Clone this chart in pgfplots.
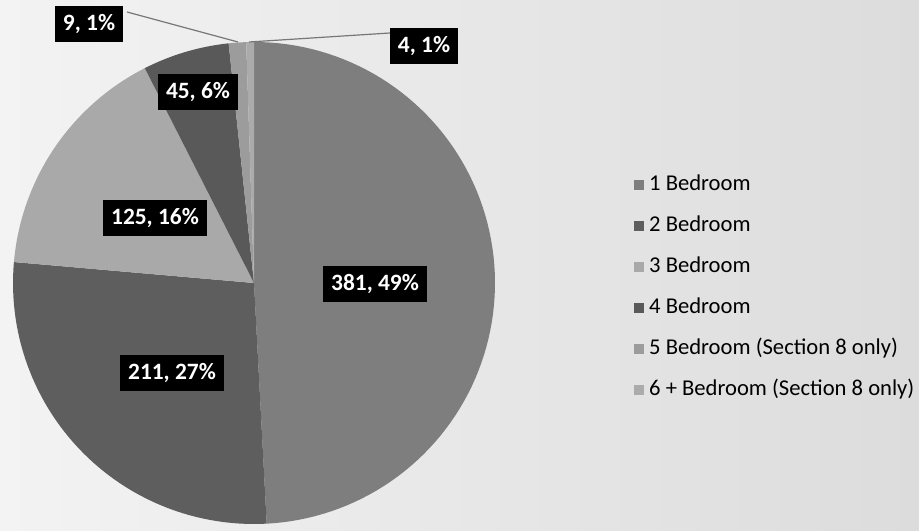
\documentclass[border=0pt]{standalone}
\usepackage{fontspec}
\setmainfont{Carlito}
\usepackage{pgfplots}
\usepackage{pgfplotstable}
\pgfplotsset{compat=1.18}
\definecolor{cA}{HTML}{7E7E7E}
\definecolor{cB}{HTML}{5E5E5E}
\definecolor{cC}{HTML}{A9A9A9}
\definecolor{cD}{HTML}{595959}
\definecolor{cE}{HTML}{9C9C9C}
\definecolor{cF}{HTML}{ABABAB}
\definecolor{bgL}{HTML}{F3F3F3}
\definecolor{bgR}{HTML}{DCDCDC}
\definecolor{lead}{HTML}{777777}

\pgfplotstableread{
n count
1 381
2 211
3 125
4 45
5 9
6 4
}\units

\pgfplotstablegetelem{0}{count}\of\units \let\vA\pgfplotsretval
\pgfplotstablegetelem{1}{count}\of\units \let\vB\pgfplotsretval
\pgfplotstablegetelem{2}{count}\of\units \let\vC\pgfplotsretval
\pgfplotstablegetelem{3}{count}\of\units \let\vD\pgfplotsretval
\pgfplotstablegetelem{4}{count}\of\units \let\vE\pgfplotsretval
\pgfplotstablegetelem{5}{count}\of\units \let\vF\pgfplotsretval
\pgfmathsetmacro{\total}{\vA+\vB+\vC+\vD+\vE+\vF}
\pgfmathsetmacro{\aA}{0}
\pgfmathsetmacro{\aB}{\vA/\total*360}
\pgfmathsetmacro{\aC}{(\vA+\vB)/\total*360}
\pgfmathsetmacro{\aD}{(\vA+\vB+\vC)/\total*360}
\pgfmathsetmacro{\aE}{(\vA+\vB+\vC+\vD)/\total*360}
\pgfmathsetmacro{\aF}{(\vA+\vB+\vC+\vD+\vE)/\total*360}
\pgfmathsetmacro{\aG}{360}

\newcommand{\cx}{254}
\newcommand{\cy}{248}
\newcommand{\rr}{241}

\begin{document}
\begin{tikzpicture}
\begin{axis}[
  scale only axis, width=919bp, height=531bp,
  xmin=0, xmax=919, ymin=0, ymax=531,
  hide axis, clip=false,
  legend cell align=left,
  legend style={at={(axis cs:631,359)}, anchor=north west, draw=none, fill=none,
    font=\fontsize{22.7}{26}\selectfont, row sep=20bp, column sep=4bp,
    nodes={inner sep=1pt, text height=15bp, text depth=4bp}},
  legend image code/.code={\fill[#1] (0bp,-5bp) rectangle (10bp,5bp);},
]
\shade[left color=bgL, right color=bgR] (axis cs:0,0) rectangle (axis cs:919,531);

\addplot[fill=cA, draw=none, domain=\aA:\aB, samples=90, variable=\t]
  ({\cx+\rr*sin(\t)},{\cy+\rr*cos(\t)}) -- (axis cs:\cx,\cy) -- cycle;
\addlegendentry{1 Bedroom}
\addplot[fill=cB, draw=none, domain=\aB:\aC, samples=60, variable=\t]
  ({\cx+\rr*sin(\t)},{\cy+\rr*cos(\t)}) -- (axis cs:\cx,\cy) -- cycle;
\addlegendentry{2 Bedroom}
\addplot[fill=cC, draw=none, domain=\aC:\aD, samples=40, variable=\t]
  ({\cx+\rr*sin(\t)},{\cy+\rr*cos(\t)}) -- (axis cs:\cx,\cy) -- cycle;
\addlegendentry{3 Bedroom}
\addplot[fill=cD, draw=none, domain=\aD:\aE, samples=20, variable=\t]
  ({\cx+\rr*sin(\t)},{\cy+\rr*cos(\t)}) -- (axis cs:\cx,\cy) -- cycle;
\addlegendentry{4 Bedroom}
\addplot[fill=cE, draw=none, domain=\aE:\aF, samples=6, variable=\t]
  ({\cx+\rr*sin(\t)},{\cy+\rr*cos(\t)}) -- (axis cs:\cx,\cy) -- cycle;
\addlegendentry{5 Bedroom (Section 8 only)}
\addplot[fill=cF, draw=none, domain=\aF:\aG, samples=4, variable=\t]
  ({\cx+\rr*sin(\t)},{\cy+\rr*cos(\t)}) -- (axis cs:\cx,\cy) -- cycle;
\addlegendentry{6 + Bedroom (Section 8 only)}

\draw[lead, line width=1.2bp] (axis cs:127,519) -- (axis cs:238,489);
\draw[lead, line width=1.2bp] (axis cs:249,489) -- (axis cs:390,498);

\tikzset{dl/.style={fill=black, text=white, font=\bfseries\fontsize{23.5}{27}\selectfont,
  inner xsep=8bp, inner ysep=8bp}}
\node[dl] at (axis cs:375,247) {381, 49\%};
\node[dl] at (axis cs:172,158) {211, 27\%};
\node[dl] at (axis cs:155,313) {125, 16\%};
\node[dl] at (axis cs:198,439) {45, 6\%};
\node[dl] at (axis cs:89,507) {9, 1\%};
\node[dl] at (axis cs:424,485) {4, 1\%};
\end{axis}
\end{tikzpicture}
\end{document}
